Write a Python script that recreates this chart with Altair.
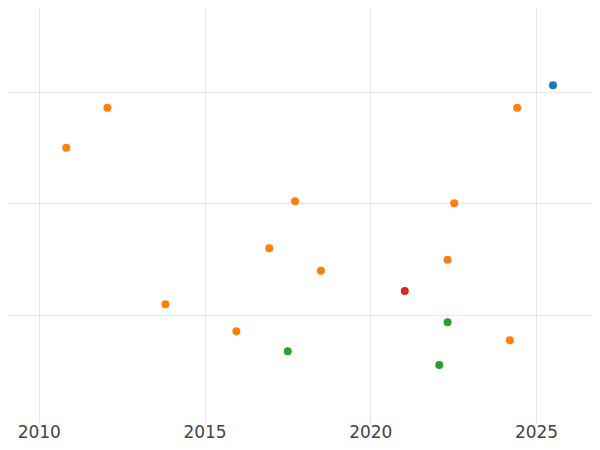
import altair as alt
import pandas as pd

years = [2012.07, 2010.83, 2017.73, 2025.51, 2024.43, 2022.53, 2016.95, 2013.82,
         2015.96, 2017.51, 2018.51, 2022.33, 2021.04, 2022.33, 2024.21, 2022.08]
values = [2.857, 2.498, 2.018, 3.057, 2.857, 2.000, 1.597, 1.096,
          0.854, 0.675, 1.397, 1.495, 1.215, 0.935, 0.773, 0.552]
groups = ["B", "B", "B", "A", "B", "B", "B", "B",
          "B", "C", "B", "B", "D", "C", "B", "C"]

group_names = ["A", "B", "C", "D"]
group_colors = ["#1f77b4", "#ff7f0e", "#2ca02c", "#d62728"]
x_ticks = [2010, 2015, 2020, 2025]
y_grid = [1, 2, 3]

df = pd.DataFrame({"year": years, "value": values, "group": groups})

chart = alt.Chart(df).mark_circle(size=64, opacity=1).encode(
    x=alt.X("year:Q",
            scale=alt.Scale(domain=[2008.830, 2026.929], nice=False, zero=False),
            axis=alt.Axis(values=x_ticks, format="d", title=None, domain=False,
                          ticks=False, tickSize=0, labelPadding=1,
                          labelFontSize=17, labelFont="DejaVu Sans",
                          labelColor="#444444", gridColor="#e6e6e6", gridWidth=1)),
    y=alt.Y("value:Q",
            scale=alt.Scale(domain=[0.0327, 3.8213], nice=False, zero=False),
            axis=alt.Axis(values=y_grid, labels=False, ticks=False, domain=False,
                          title=None, gridColor="#e6e6e6", gridWidth=1)),
    color=alt.Color("group:N",
                    scale=alt.Scale(domain=group_names, range=group_colors),
                    legend=None),
).properties(
    width=600, height=423,
    padding={"left": -8, "top": -8, "right": -8, "bottom": 19},
    autosize=alt.AutoSizeParams(type="none"),
).configure_view(stroke=None)

chart.save("out.html", embed_options={"renderer": "svg", "actions": False})
